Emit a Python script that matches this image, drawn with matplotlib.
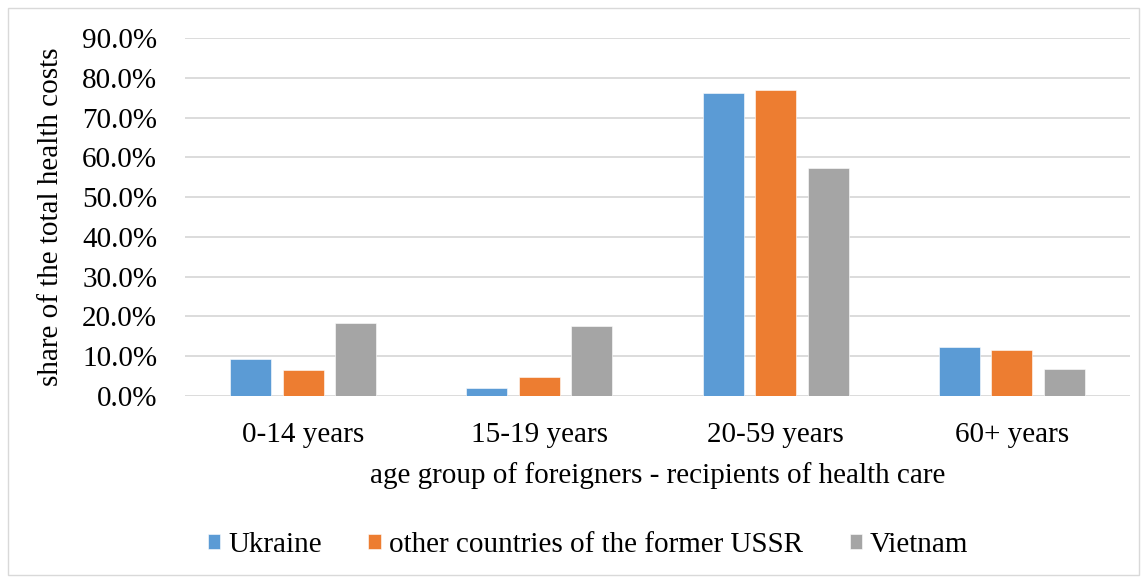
import matplotlib
matplotlib.use("Agg")
import matplotlib.pyplot as plt
import numpy as np
from matplotlib.patches import Rectangle

categories = ["0-14 years", "15-19 years", "20-59 years", "60+ years"]
series_names = ["Ukraine", "other countries of the former USSR", "Vietnam"]
ukraine = [9.2, 2.1, 76.2, 12.2]
former_ussr = [6.5, 4.8, 77.0, 11.5]
vietnam = [18.3, 17.6, 57.2, 6.8]
colors = ["#5b9bd5", "#ed7d31", "#a5a5a5"]

plt.rcParams["font.family"] = ["Liberation Serif", "DejaVu Serif"]
FS = 21

fig = plt.figure(figsize=(11.44, 5.78), dpi=100)
ax = fig.add_axes([185 / 1144, 1 - 396 / 578, 945 / 1144, 358 / 578])

x = np.arange(len(categories))
width = 0.174
step = 0.222
for i, (vals, name, col) in enumerate(zip([ukraine, former_ussr, vietnam], series_names, colors)):
    ax.bar(x + (i - 1) * step, vals, width, color=col, label=name, zorder=3,
           edgecolor="white", linewidth=0.4)

ax.set_xlim(-0.5, len(categories) - 0.5)
ax.set_ylim(0, 90)
ax.set_yticks(np.arange(0, 91, 10))
ax.set_yticklabels([f"{v:.1f}%" for v in np.arange(0, 91, 10)], fontsize=FS)
ax.set_xticks(x)
ax.set_xticklabels(categories, fontsize=FS)
ax.tick_params(axis="x", length=0, pad=19)
ax.tick_params(axis="y", length=0, pad=20)
ax.grid(axis="y", color="#d9d9d9", linewidth=1.3, zorder=0)
for s in ax.spines.values():
    s.set_visible(False)

ax.set_ylabel("share of the total health costs", fontsize=FS, labelpad=13)
ax.set_xlabel("age group of foreigners - recipients of health care", fontsize=FS, labelpad=10)

leg = fig.legend(loc="center", bbox_to_anchor=(588 / 1144, 1 - 545 / 578), ncol=3, frameon=False,
                 fontsize=FS, handlelength=0.42, handleheight=0.42, handletextpad=0.28,
                 columnspacing=1.6)

fig.patches.append(Rectangle((8 / 1144, 3 / 578), 1131 / 1144, 567 / 578, transform=fig.transFigure,
                             fill=False, edgecolor="#d9d9d9", linewidth=1))

fig.savefig("out.png", dpi=100)
